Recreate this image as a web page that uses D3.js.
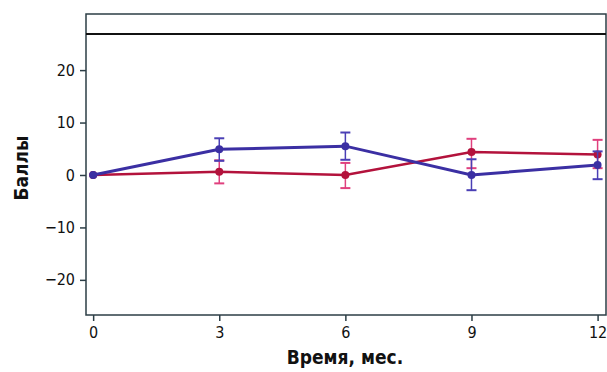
<!DOCTYPE html>
<html>
<head>
<meta charset="utf-8">
<script src="https://cdn.jsdelivr.net/npm/d3@7"></script>
<style>
  body { margin: 0; background: #fff; }
  text { font-family: "Liberation Sans Narrow", "DejaVu Sans Condensed", sans-serif; }
</style>
</head>
<body>
<div class="chart"></div>
<script>
// months on x axis
var months = [0, 3, 6, 9, 12];
var xTicks = [0, 3, 6, 9, 12];
var yTicks = [-20, -10, 0, 10, 20];

// blue series: mean, upper and lower error
var blueMean = [0, 4.9, 5.5, 0, 1.9];
var blueHigh = [0, 7.0, 8.1, 3.0, 4.5];
var blueLow  = [0, 2.7, 2.9, -2.9, -0.8];

// red series
var redMean = [0, 0.6, 0, 4.4, 3.9];
var redHigh = [0, 2.8, 2.3, 6.9, 6.7];
var redLow  = [0, -1.6, -2.5, 1.3, 1.3];

var refLine = 26.9;

var svgWidth = 607, svgHeight = 372;
var margin = { top: 14, right: 1, bottom: 57, left: 86 };
var width = svgWidth - margin.left - margin.right;
var height = svgHeight - margin.top - margin.bottom;

var svg = d3.select(".chart")
  .append("svg")
  .attr("width", svgWidth)
  .attr("height", svgHeight);

var chartGroup = svg.append("g")
  .attr("transform", `translate(${margin.left}, ${margin.top})`);

var xScale = d3.scaleLinear()
  .domain([-0.17, 12.2])
  .range([0, width]);

var yScale = d3.scaleLinear()
  .domain([-26.7, 30.7])
  .range([height, 0]);

// axes
var yAxis = d3.axisLeft(yScale)
  .tickValues(yTicks)
  .tickSize(6)
  .tickPadding(5)
  .tickFormat(d => d < 0 ? "\u2212" + Math.abs(d) : d);

var xAxis = d3.axisBottom(xScale)
  .tickValues(xTicks)
  .tickSize(6)
  .tickPadding(6);

var gy = chartGroup.append("g").call(yAxis);
var gx = chartGroup.append("g")
  .attr("transform", `translate(0, ${height})`)
  .call(xAxis);

[gy, gx].forEach(function (g) {
  g.select(".domain").remove();
  g.selectAll("line").attr("stroke", "#2c3e46").attr("stroke-width", 1.5);
  g.selectAll("text").attr("font-size", "16px").attr("fill", "#111");
});

// plot frame
chartGroup.append("rect")
  .attr("x", 0).attr("y", 0)
  .attr("width", width).attr("height", height)
  .attr("fill", "none")
  .attr("stroke", "#2c3e46")
  .attr("stroke-width", 1.5);

// black reference line near top
chartGroup.append("line")
  .attr("x1", 0).attr("x2", width)
  .attr("y1", yScale(refLine)).attr("y2", yScale(refLine))
  .attr("stroke", "#111")
  .attr("stroke-width", 2);

var series = [
  { mean: redMean, high: redHigh, low: redLow, color: "#b3123c", err: "#e0407e", w: 2.5 },
  { mean: blueMean, high: blueHigh, low: blueLow, color: "#3b2fa3", err: "#4a3fb5", w: 3 }
];

series.forEach(function (s) {
  var rows = months.map((m, i) => ({ m: m, v: s.mean[i], hi: s.high[i], lo: s.low[i] }));

  var eg = chartGroup.append("g");
  eg.selectAll("line.v").data(rows.slice(1)).enter().append("line")
    .attr("x1", d => xScale(d.m)).attr("x2", d => xScale(d.m))
    .attr("y1", d => yScale(d.hi)).attr("y2", d => yScale(d.lo))
    .attr("stroke", s.err).attr("stroke-width", 1.5);
  ["hi", "lo"].forEach(function (k) {
    eg.selectAll("line." + k).data(rows.slice(1)).enter().append("line")
      .attr("x1", d => xScale(d.m) - 5).attr("x2", d => xScale(d.m) + 5)
      .attr("y1", d => yScale(d[k])).attr("y2", d => yScale(d[k]))
      .attr("stroke", s.err).attr("stroke-width", 2);
  });

  var line = d3.line().x(d => xScale(d.m)).y(d => yScale(d.v));
  chartGroup.append("path")
    .datum(rows)
    .attr("d", line)
    .attr("fill", "none")
    .attr("stroke", s.color)
    .attr("stroke-width", s.w);

  chartGroup.selectAll(null).data(rows).enter().append("circle")
    .attr("cx", d => xScale(d.m))
    .attr("cy", d => yScale(d.v))
    .attr("r", 4)
    .attr("fill", s.color);
});

// axis labels
svg.append("text")
  .attr("x", 345).attr("y", 364)
  .attr("text-anchor", "middle")
  .attr("font-size", "19px")
  .attr("font-weight", "bold")
  .attr("fill", "#111")
  .text("Время, мес.");

svg.append("text")
  .attr("transform", "translate(28, 168) rotate(-90)")
  .attr("text-anchor", "middle")
  .attr("font-size", "19px")
  .attr("font-weight", "bold")
  .attr("fill", "#111")
  .text("Баллы");
</script>
</body>
</html>
